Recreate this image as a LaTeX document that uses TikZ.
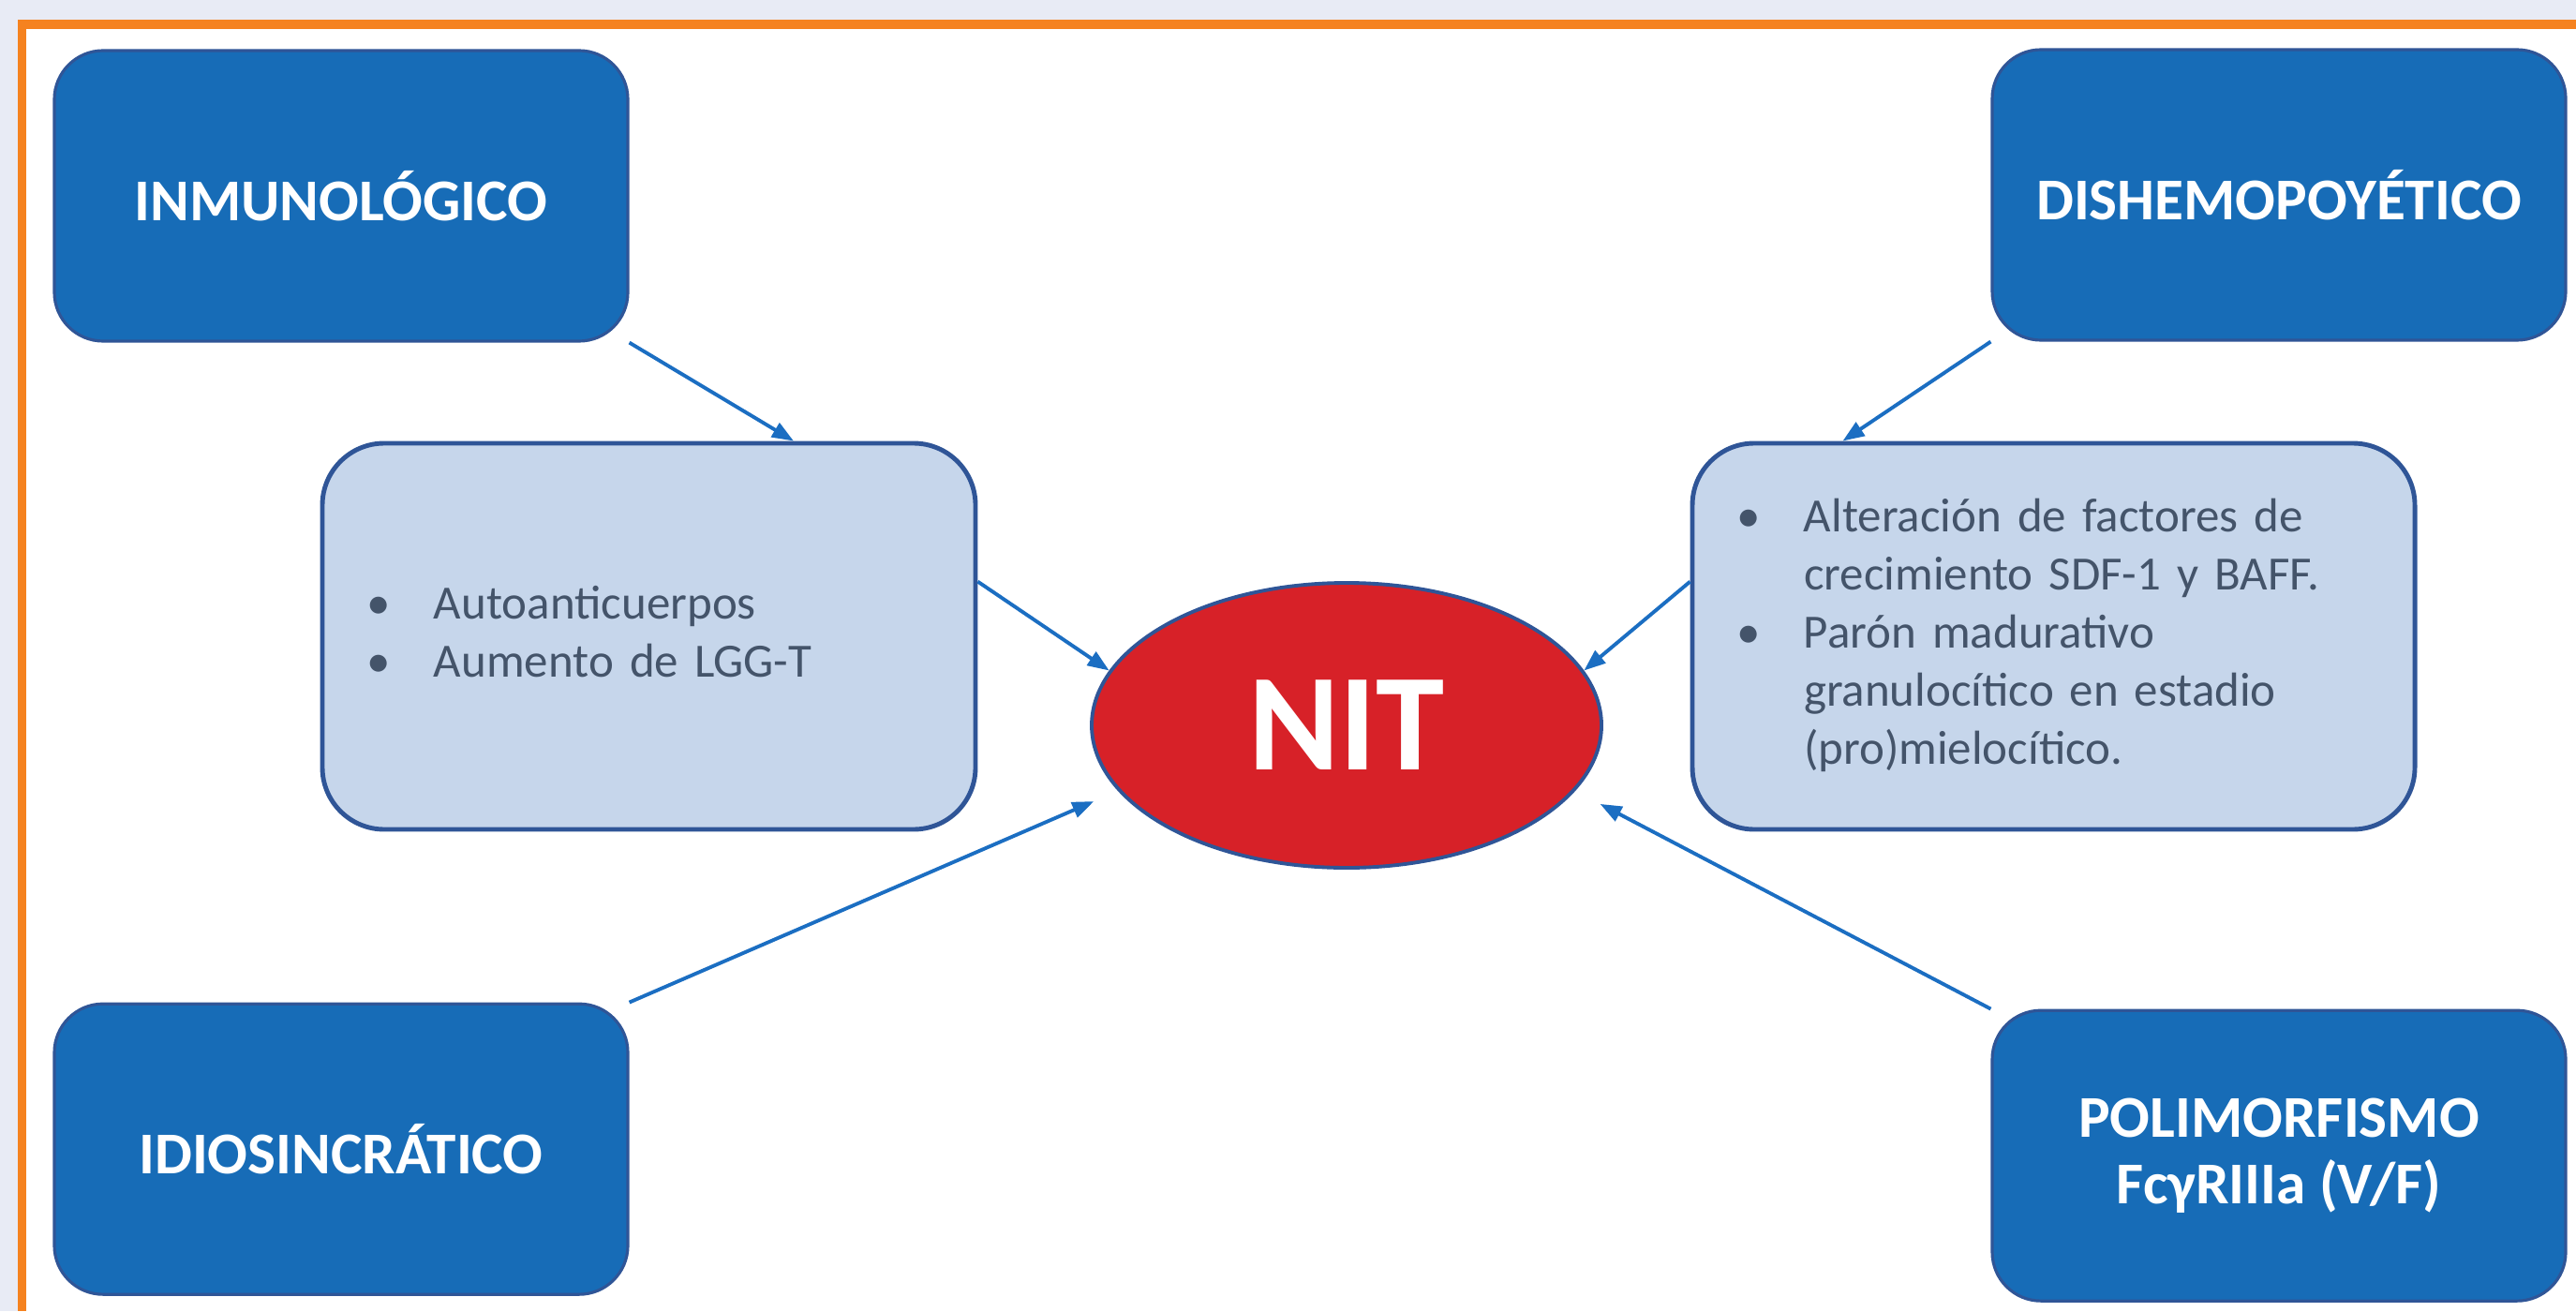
\documentclass[tikz,border=0pt]{standalone}
\usepackage{fontspec}
\setmainfont{Carlito}
\usepackage{xcolor}
\usepackage{tikz}
\usetikzlibrary{arrows.meta,positioning,shapes.geometric,calc}
\definecolor{causeblue}{HTML}{176CB7}
\definecolor{edgeblue}{HTML}{2F5597}
\definecolor{detailblue}{HTML}{C6D6EB}
\definecolor{arrowblue}{HTML}{1B6EC2}
\definecolor{nitred}{HTML}{D72128}
\definecolor{textslate}{HTML}{44546A}
\definecolor{framebg}{HTML}{E8EBF5}
\definecolor{frameorange}{HTML}{F5821F}

\begin{document}
\begin{tikzpicture}[
  cause/.style={draw=edgeblue,line width=0.9pt,rounded corners=0.52cm,fill=causeblue,
    minimum width=6.12cm,minimum height=3.1cm,align=center,text=white,
    font=\fontsize{18}{20}\selectfont\bfseries},
  detail/.style={draw=edgeblue,line width=1.4pt,rounded corners=0.66cm,fill=detailblue,
    minimum height=4.12cm,inner xsep=0.47cm,align=left,text=textslate,
    font=\fontsize{14.5}{17.6}\selectfont},
  arrow/.style={-{Triangle[length=2.3mm,width=1.7mm]},line width=1.1pt,draw=arrowblue}
]
\useasboundingbox (0,0) rectangle (27.49,13.99);
% frame
\fill[framebg] (0,0) rectangle (27.49,13.99);
\fill[frameorange] (0.19,0) rectangle (27.49,13.78);
\fill[white] (0.28,0) rectangle (27.49,13.68);

\node[ellipse,draw=edgeblue,line width=1.1pt,fill=nitred,minimum width=5.44cm,
  minimum height=3.04cm,text=white,font=\fontsize{42}{46}\selectfont\bfseries]
  (nit) at (14.37,6.25) {NIT};

\node[cause] (inm) at (3.64,11.90) {INMUNOLÓGICO};
\node[cause, below=7.04cm of inm] (idio) {IDIOSINCRÁTICO};
\node[cause] (dis) at (24.32,11.91) {DISHEMOPOYÉTICO};
\node[cause, below=7.12cm of dis] (poli) {POLIMORFISMO\\FcγRIIIa (V/F)};

\node[detail, text width=6.03cm] (lleft) at (6.925,7.20) {%
  \begin{tabular}{@{}p{0.72cm}@{}l@{}}
  \textbullet & Autoanticuerpos\\
  \textbullet & Aumento de LGG-T
  \end{tabular}};
\node[detail, text width=6.77cm] (lright) at (21.915,7.20) {%
  \begin{tabular}{@{}p{0.72cm}@{}l@{}}
  \textbullet & Alteración de factores de\\
              & crecimiento SDF-1 y BAFF.\\
  \textbullet & Parón madurativo\\
              & granulocítico en estadio\\
              & (pro)mielocítico.
  \end{tabular}};

% connectors
\draw[arrow] (inm.south east) -- ($(lleft.north west)!0.72!(lleft.north east)$);
\draw[arrow] (dis.south west) -- ($(lright.north west)!0.21!(lright.north east)$);
\draw[arrow] ($(lleft.north east)!0.36!(lleft.south east)$) -- (nit.167);
\draw[arrow] ($(lright.north west)!0.36!(lright.south west)$) -- (nit.13);
\draw[arrow,shorten >=2.8mm] (idio.north east) -- (nit.196);
\draw[arrow,shorten >=3mm] (poli.north west) -- (nit.344);
\end{tikzpicture}
\end{document}
